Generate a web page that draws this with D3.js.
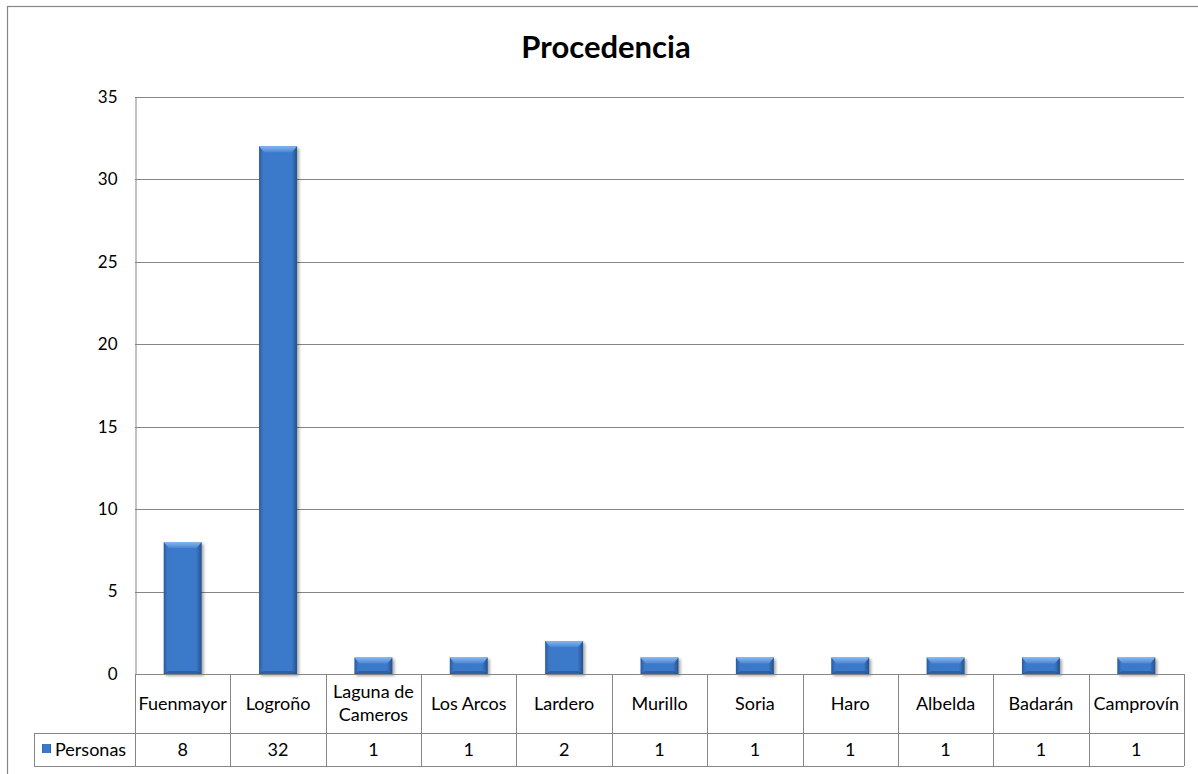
<!DOCTYPE html>
<html><head><meta charset="utf-8">
<script src="https://cdn.jsdelivr.net/npm/d3@7"></script>
<style>body{margin:0;background:#fff}svg{display:block}text{font-family:Lato,"Open Sans",sans-serif;fill:#000}</style>
</head><body><svg id="c" width="1198" height="774"></svg>
<script>
const categories = ["Fuenmayor","Logroño","Laguna de\nCameros","Los Arcos","Lardero","Murillo","Soria","Haro","Albelda","Badarán","Camprovín"];
const personas = [8,32,1,1,2,1,1,1,1,1,1];
const yTicks = [0,5,10,15,20,25,30,35];
const seriesName = "Personas";
const title = "Procedencia";

const svg = d3.select("#c");
const L = 135, R = 1184, T = 96.7, B = 674;
const row1 = 733, row2 = 766, tableLeft = 34;
const grid = "#868686";

svg.append("rect").attr("x",7.5).attr("y",6.5).attr("width",1200).attr("height",800)
  .attr("fill","#fff").attr("stroke","#868686").attr("stroke-width",1.2);

const defs = svg.append("defs");
const g1 = defs.append("linearGradient").attr("id","body").attr("x1",0).attr("x2",1).attr("y1",0).attr("y2",0);
[[0,"#2a5a9e"],[0.1,"#3a78c8"],[0.85,"#3b7acb"],[1,"#26508c"]].forEach(s=>g1.append("stop").attr("offset",s[0]).attr("stop-color",s[1]));
const g2 = defs.append("linearGradient").attr("id","top").attr("x1",0).attr("x2",0).attr("y1",0).attr("y2",1);
[[0,"#86b6ee"],[1,"#4a87d4"]].forEach(s=>g2.append("stop").attr("offset",s[0]).attr("stop-color",s[1]));
const f = defs.append("filter").attr("id","sh").attr("x","-20%").attr("y","-20%").attr("width","150%").attr("height","150%");
f.append("feGaussianBlur").attr("in","SourceAlpha").attr("stdDeviation",1.5);
f.append("feOffset").attr("dx",1.5).attr("dy",1.5).attr("result","o");
f.append("feComponentTransfer").append("feFuncA").attr("type","linear").attr("slope",0.35);
const m = f.append("feMerge"); m.append("feMergeNode"); m.append("feMergeNode").attr("in","SourceGraphic");

const x = d3.scaleBand().domain(d3.range(categories.length)).range([L,R]);
const y = d3.scaleLinear().domain([0,35]).range([B,T]);

// gridlines
svg.append("g").selectAll("line").data(yTicks.filter(t=>t>0)).join("line")
  .attr("x1",L).attr("x2",R).attr("y1",d=>Math.round(y(d))+0.5).attr("y2",d=>Math.round(y(d))+0.5)
  .attr("stroke",grid).attr("stroke-width",1);

// y axis
const ya = svg.append("g").attr("transform",`translate(${L+0.5},0)`)
  .call(d3.axisLeft(y).tickValues(yTicks).tickSize(0).tickPadding(18));
ya.select(".domain").attr("stroke",grid);
ya.selectAll("text").attr("font-size",17).style("font-family","Lato,sans-serif").attr("fill","#000");

// bars
const bw = 38;
const bars = svg.append("g").selectAll("g").data(personas).join("g").attr("filter","url(#sh)");
bars.append("rect").attr("x",(d,i)=>x(i)+x.bandwidth()/2-bw/2).attr("y",d=>y(d))
  .attr("width",bw).attr("height",d=>B-y(d)).attr("fill","url(#body)");
bars.append("path").attr("d",(d,i)=>{const x0=x(i)+x.bandwidth()/2-bw/2, y0=y(d), x1=x0+bw; const h=Math.min(6,(B-y0)/2);
  return `M${x0},${y0}L${x1},${y0}L${x1-5},${y0+h}L${x0+5},${y0+h}Z`;}).attr("fill","url(#top)");
bars.append("path").attr("d",(d,i)=>{const x0=x(i)+x.bandwidth()/2-bw/2, x1=x0+bw;
  return `M${x0},${B}L${x1},${B}L${x1-5},${B-3}L${x0+5},${B-3}Z`;}).attr("fill","#24508f").attr("opacity",0.6);

// table
const tl = svg.append("g").attr("stroke",grid).attr("stroke-width",1).attr("fill","none");
tl.append("line").attr("x1",L).attr("x2",R).attr("y1",B+0.5).attr("y2",B+0.5);
tl.append("line").attr("x1",tableLeft).attr("x2",R).attr("y1",row1+0.5).attr("y2",row1+0.5);
tl.append("line").attr("x1",tableLeft).attr("x2",R).attr("y1",row2+0.5).attr("y2",row2+0.5);
tl.append("line").attr("x1",tableLeft+0.5).attr("x2",tableLeft+0.5).attr("y1",row1).attr("y2",row2);
tl.selectAll(".v").data(d3.range(categories.length+1)).join("line").attr("class","v")
  .attr("x1",i=>Math.round(i<categories.length?x(i):R)+0.5).attr("x2",i=>Math.round(i<categories.length?x(i):R)+0.5)
  .attr("y1",B).attr("y2",row2);

const lab = svg.append("g").selectAll("text").data(categories).join("text")
  .attr("text-anchor","middle").attr("font-size",18)
  .attr("transform",(d,i)=>`translate(${x(i)+x.bandwidth()/2},${(B+row1)/2})`);
lab.each(function(d){const lines=d.split("\n"); const t=d3.select(this);
  lines.forEach((s,k)=>t.append("tspan").attr("x",0).attr("y",(k-(lines.length-1)/2)*23+6).text(s));});

svg.append("g").selectAll("text").data(personas).join("text")
  .attr("x",(d,i)=>x(i)+x.bandwidth()/2).attr("y",(row1+row2)/2+6.5).attr("text-anchor","middle")
  .attr("font-size",18).text(d=>d);

svg.append("rect").attr("x",42).attr("y",744).attr("width",9).attr("height",9).attr("fill","url(#body)");
svg.append("text").attr("x",55).attr("y",(row1+row2)/2+6.5).attr("font-size",18).text(seriesName);

svg.append("text").attr("x",606).attr("y",58).attr("text-anchor","middle").attr("font-size",31)
  .attr("font-weight","bold").text(title);
</script></body></html>
